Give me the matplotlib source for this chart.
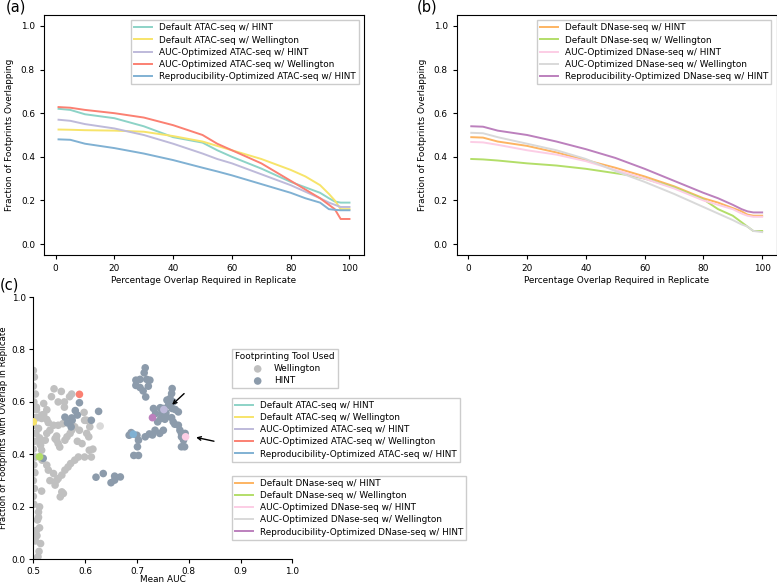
import matplotlib.pyplot as plt

# ---- panel (a) / (b) data: fraction overlapping vs percent overlap required ----
pct = [1, 5, 10, 20, 30, 40, 50, 55, 60, 70, 80, 85, 90, 93, 95, 97, 100]

atac_labels = ["Default ATAC-seq w/ HINT", "Default ATAC-seq w/ Wellington",
               "AUC-Optimized ATAC-seq w/ HINT", "AUC-Optimized ATAC-seq w/ Wellington",
               "Reproducibility-Optimized ATAC-seq w/ HINT"]
atac_colors = ["#8dd3c7", "#f7e46a", "#bebada", "#fb8072", "#80b1d3"]
atac_def_hint = [0.62, 0.615, 0.595, 0.577, 0.54, 0.49, 0.465, 0.43, 0.40, 0.346, 0.285, 0.26, 0.235, 0.21, 0.195, 0.19, 0.19]
atac_def_well = [0.525, 0.524, 0.522, 0.52, 0.515, 0.495, 0.47, 0.45, 0.43, 0.39, 0.34, 0.31, 0.27, 0.23, 0.20, 0.16, 0.16]
atac_auc_hint = [0.57, 0.565, 0.55, 0.53, 0.50, 0.46, 0.415, 0.39, 0.37, 0.32, 0.27, 0.24, 0.21, 0.19, 0.18, 0.17, 0.17]
atac_auc_well = [0.628, 0.625, 0.615, 0.60, 0.58, 0.545, 0.50, 0.46, 0.43, 0.37, 0.29, 0.25, 0.21, 0.18, 0.16, 0.115, 0.115]
atac_rep_hint = [0.48, 0.478, 0.46, 0.44, 0.415, 0.385, 0.35, 0.333, 0.315, 0.275, 0.235, 0.21, 0.19, 0.16, 0.157, 0.155, 0.155]

dnase_labels = ["Default DNase-seq w/ HINT", "Default DNase-seq w/ Wellington",
                "AUC-Optimized DNase-seq w/ HINT", "AUC-Optimized DNase-seq w/ Wellington",
                "Reproducibility-Optimized DNase-seq w/ HINT"]
dnase_colors = ["#fdb462", "#b3de69", "#fccde5", "#d9d9d9", "#bc80bd"]
dnase_def_hint = [0.49, 0.488, 0.47, 0.45, 0.42, 0.385, 0.35, 0.33, 0.31, 0.265, 0.21, 0.19, 0.165, 0.15, 0.135, 0.13, 0.13]
dnase_def_well = [0.39, 0.388, 0.383, 0.37, 0.36, 0.345, 0.325, 0.315, 0.30, 0.26, 0.205, 0.16, 0.13, 0.10, 0.08, 0.06, 0.06]
dnase_auc_hint = [0.468, 0.466, 0.455, 0.43, 0.41, 0.38, 0.34, 0.32, 0.30, 0.255, 0.20, 0.18, 0.16, 0.14, 0.13, 0.125, 0.125]
dnase_auc_well = [0.51, 0.508, 0.49, 0.46, 0.43, 0.39, 0.335, 0.31, 0.285, 0.23, 0.17, 0.14, 0.11, 0.09, 0.08, 0.06, 0.055]
dnase_rep_hint = [0.54, 0.538, 0.52, 0.50, 0.47, 0.435, 0.395, 0.37, 0.345, 0.29, 0.235, 0.21, 0.18, 0.16, 0.15, 0.145, 0.145]

# ---- panel (c) data: mean AUC vs fraction overlapping ----
well_auc = [0.500, 0.502, 0.500, 0.504, 0.501, 0.506, 0.503, 0.500, 0.505, 0.502, 0.500, 0.504, 0.501,
            0.503, 0.500, 0.502, 0.500, 0.501, 0.510, 0.508, 0.512, 0.507, 0.514, 0.511, 0.509, 0.506,
            0.540, 0.554, 0.574, 0.520, 0.526, 0.520, 0.526, 0.516, 0.529, 0.539, 0.548, 0.557, 0.532,
            0.526, 0.523, 0.542, 0.545, 0.548, 0.551, 0.561, 0.565, 0.571, 0.574, 0.580, 0.589, 0.599,
            0.603, 0.609, 0.594, 0.608, 0.612, 0.599, 0.607, 0.603, 0.600, 0.587, 0.580, 0.572, 0.567,
            0.561, 0.555, 0.548, 0.542, 0.555, 0.552, 0.558, 0.545, 0.539, 0.529, 0.526, 0.517, 0.516,
            0.514, 0.512, 0.510, 0.508, 0.506, 0.516, 0.513, 0.532, 0.516, 0.512, 0.510, 0.506, 0.504,
            0.535, 0.548, 0.560, 0.570, 0.585, 0.615, 0.598, 0.560, 0.545]
well_frac = [0.720, 0.695, 0.660, 0.630, 0.600, 0.570, 0.540, 0.510, 0.480, 0.450, 0.420, 0.390, 0.360,
             0.330, 0.300, 0.270, 0.240, 0.210, 0.180, 0.150, 0.120, 0.090, 0.060, 0.030, 0.010, 0.002,
             0.650, 0.640, 0.630, 0.594, 0.570, 0.552, 0.533, 0.537, 0.521, 0.511, 0.511, 0.517, 0.492,
             0.480, 0.454, 0.460, 0.454, 0.441, 0.428, 0.454, 0.467, 0.480, 0.492, 0.505, 0.492, 0.530,
             0.530, 0.505, 0.441, 0.416, 0.390, 0.390, 0.467, 0.480, 0.530, 0.390, 0.378, 0.365, 0.352,
             0.340, 0.321, 0.308, 0.283, 0.257, 0.238, 0.251, 0.301, 0.327, 0.340, 0.359, 0.378, 0.416,
             0.435, 0.463, 0.499, 0.540, 0.580, 0.550, 0.440, 0.300, 0.260, 0.200, 0.160, 0.110, 0.070,
             0.620, 0.600, 0.580, 0.620, 0.450, 0.420, 0.560, 0.600, 0.470]
hint_auc = [0.716, 0.714, 0.698, 0.706, 0.719, 0.725, 0.698, 0.706, 0.712, 0.722, 0.717, 0.768, 0.767,
            0.764, 0.758, 0.745, 0.751, 0.761, 0.768, 0.774, 0.770, 0.780, 0.757, 0.754, 0.770, 0.773,
            0.780, 0.783, 0.786, 0.793, 0.786, 0.790, 0.786, 0.792, 0.732, 0.736, 0.746, 0.748, 0.740,
            0.751, 0.744, 0.735, 0.724, 0.730, 0.716, 0.700, 0.703, 0.701, 0.685, 0.694, 0.703, 0.689,
            0.668, 0.657, 0.635, 0.621, 0.657, 0.650, 0.612, 0.626, 0.589, 0.585, 0.581, 0.575, 0.566,
            0.561, 0.574, 0.573, 0.519, 0.767, 0.756]
hint_frac = [0.730, 0.711, 0.683, 0.686, 0.686, 0.683, 0.663, 0.655, 0.642, 0.660, 0.619, 0.651, 0.632,
             0.613, 0.607, 0.578, 0.575, 0.588, 0.575, 0.571, 0.600, 0.562, 0.543, 0.534, 0.524, 0.515,
             0.511, 0.492, 0.480, 0.480, 0.467, 0.454, 0.429, 0.429, 0.575, 0.556, 0.537, 0.556, 0.524,
             0.492, 0.480, 0.492, 0.478, 0.474, 0.467, 0.473, 0.454, 0.429, 0.473, 0.396, 0.396, 0.483,
             0.314, 0.317, 0.327, 0.313, 0.302, 0.292, 0.530, 0.564, 0.597, 0.550, 0.567, 0.530, 0.520,
             0.542, 0.539, 0.505, 0.385, 0.540, 0.559]

# highlighted configurations (colors match the curves)
hl_auc = [0.500, 0.752, 0.589, 0.693, 0.512, 0.794, 0.629, 0.730]
hl_frac = [0.524, 0.571, 0.629, 0.477, 0.391, 0.467, 0.508, 0.540]
hl_colors = ["#f7e46a", "#bebada", "#fb8072", "#80b1d3", "#b3de69", "#fccde5", "#d9d9d9", "#bc80bd"]

well_color = "#c0c0c0"
hint_color = "#8c9bab"

plt.rcParams['font.family'] = ['DejaVu Sans']
plt.rcParams['font.size'] = 6.4

fig = plt.figure(figsize=(7.77, 5.84), dpi=100)

FS = 6.4
leg_kw = dict(fontsize=FS, framealpha=1, edgecolor="#cccccc", fancybox=False,
              labelspacing=0.35, borderpad=0.35, handlelength=2.0, handletextpad=0.8)


def curve_panel(rect, series, labels, colors):
    ax = fig.add_axes(rect)
    for ys, lab, col in zip(series, labels, colors):
        ax.plot(pct, ys, color=col, lw=1.4, label=lab)
    ax.set_ylim(-0.05, 1.05)
    ax.set_yticks([0.0, 0.2, 0.4, 0.6, 0.8, 1.0])
    ax.set_xticks([0, 20, 40, 60, 80, 100])
    ax.set_xlabel("Percentage Overlap Required in Replicate", fontsize=FS, labelpad=2)
    ax.set_ylabel("Fraction of Footprints Overlapping", fontsize=FS, labelpad=5)
    ax.tick_params(labelsize=FS, length=3)
    ax.legend(loc="upper right", borderaxespad=0.6, **leg_kw)
    return ax


curve_panel([0.0566, 0.5634, 0.4119, 0.4109],
            [atac_def_hint, atac_def_well, atac_auc_hint, atac_auc_well, atac_rep_hint],
            atac_labels, atac_colors)
curve_panel([0.5878, 0.5634, 0.4118, 0.4109],
            [dnase_def_hint, dnase_def_well, dnase_auc_hint, dnase_auc_well, dnase_rep_hint],
            dnase_labels, dnase_colors)

# panel (c)
axc = fig.add_axes([0.0429, 0.0423, 0.3333, 0.4491])
axc.scatter(well_auc, well_frac, s=30, color=well_color, edgecolors="none", label="Wellington", zorder=2)
axc.scatter(hint_auc, hint_frac, s=30, color=hint_color, edgecolors="none", label="HINT", zorder=3)
axc.scatter(hl_auc, hl_frac, s=30, c=hl_colors, edgecolors="none", zorder=4)
axc.set_xlim(0.5, 1.0)
axc.set_ylim(0.0, 1.0)
axc.set_xticks([0.5, 0.6, 0.7, 0.8, 0.9, 1.0])
axc.set_yticks([0.0, 0.2, 0.4, 0.6, 0.8, 1.0])
axc.spines['top'].set_visible(False)
axc.spines['right'].set_visible(False)
axc.tick_params(labelsize=FS, length=3, pad=2.5)
axc.set_xlabel("Mean AUC", fontsize=FS)
axc.xaxis.set_label_coords(0.5, -0.058)
axc.set_ylabel("Fraction of Footprints with Overlap in Replicate", fontsize=6.2)
axc.yaxis.set_label_coords(-0.098, 0.5)

axc.annotate("", xy=(0.764, 0.582), xytext=(0.795, 0.639),
             arrowprops=dict(arrowstyle="->", color="black", lw=1))
axc.annotate("", xy=(0.809, 0.467), xytext=(0.854, 0.448),
             arrowprops=dict(arrowstyle="->", color="black", lw=1))

# legends for (c)
atac_handles = [plt.Line2D([], [], color=c, lw=1.4) for c in atac_colors]
dnase_handles = [plt.Line2D([], [], color=c, lw=1.4) for c in dnase_colors]
fig.legend(*axc.get_legend_handles_labels(), title="Footprinting Tool Used", title_fontsize=FS,
           loc="upper left", bbox_to_anchor=(0.2986, 0.4024), borderaxespad=0, **leg_kw)
fig.legend(atac_handles, atac_labels, loc="upper left", bbox_to_anchor=(0.2986, 0.3185),
           borderaxespad=0, **leg_kw)
fig.legend(dnase_handles, dnase_labels, loc="upper left", bbox_to_anchor=(0.2986, 0.185),
           borderaxespad=0, **leg_kw)

fig.text(0.008, 0.988, "(a)", fontsize=10.5, va="center")
fig.text(0.536, 0.988, "(b)", fontsize=10.5, va="center")
fig.text(0.0, 0.512, "(c)", fontsize=10.5, va="center")

fig.savefig("out.png", dpi=100)
